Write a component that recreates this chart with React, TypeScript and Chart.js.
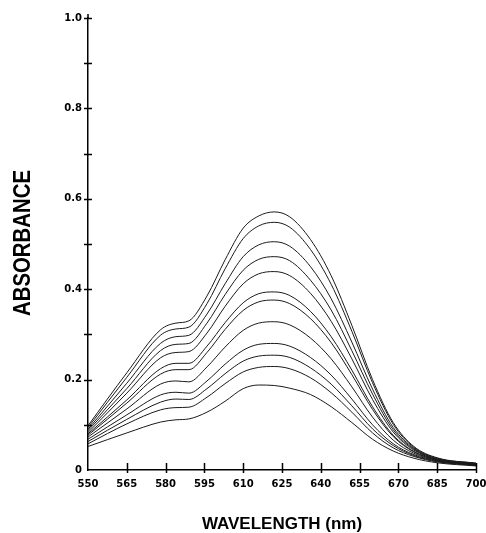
import React, { useEffect, useRef } from "react";
import { Chart, registerables } from "chart.js";

Chart.register(...registerables);

const wavelengths = [550, 565, 578, 584, 589, 596, 603, 610, 616, 622, 628, 636, 644, 652, 660, 668, 676, 685, 700];

const curve1 = [0.098, 0.215, 0.310, 0.325, 0.330, 0.385, 0.465, 0.535, 0.562, 0.571, 0.560, 0.510, 0.430, 0.320, 0.200, 0.105, 0.052, 0.027, 0.015];
const curve2 = [0.094, 0.205, 0.298, 0.312, 0.316, 0.368, 0.445, 0.512, 0.540, 0.548, 0.537, 0.488, 0.411, 0.307, 0.193, 0.101, 0.050, 0.026, 0.015];
const curve3 = [0.090, 0.192, 0.280, 0.295, 0.298, 0.345, 0.412, 0.472, 0.498, 0.505, 0.495, 0.450, 0.379, 0.283, 0.179, 0.094, 0.048, 0.025, 0.014];
const curve4 = [0.087, 0.180, 0.264, 0.278, 0.280, 0.325, 0.388, 0.442, 0.466, 0.472, 0.463, 0.420, 0.354, 0.264, 0.168, 0.089, 0.046, 0.024, 0.014];
const curve5 = [0.083, 0.170, 0.248, 0.260, 0.262, 0.303, 0.362, 0.412, 0.434, 0.439, 0.430, 0.391, 0.329, 0.246, 0.156, 0.084, 0.044, 0.023, 0.013];
const curve6 = [0.080, 0.155, 0.224, 0.236, 0.236, 0.274, 0.326, 0.370, 0.390, 0.394, 0.386, 0.351, 0.295, 0.221, 0.140, 0.077, 0.041, 0.022, 0.013];
const curve7 = [0.077, 0.148, 0.212, 0.222, 0.222, 0.260, 0.311, 0.353, 0.372, 0.376, 0.368, 0.335, 0.282, 0.211, 0.134, 0.074, 0.040, 0.022, 0.012];
const curve8 = [0.073, 0.135, 0.190, 0.197, 0.195, 0.228, 0.272, 0.309, 0.325, 0.328, 0.321, 0.292, 0.246, 0.184, 0.117, 0.066, 0.037, 0.021, 0.012];
const curve9 = [0.068, 0.122, 0.166, 0.172, 0.170, 0.197, 0.234, 0.265, 0.278, 0.280, 0.274, 0.249, 0.210, 0.157, 0.100, 0.058, 0.034, 0.020, 0.011];
const curve10 = [0.063, 0.112, 0.150, 0.157, 0.156, 0.180, 0.213, 0.241, 0.252, 0.254, 0.249, 0.226, 0.190, 0.142, 0.091, 0.054, 0.032, 0.019, 0.010];
const curve11 = [0.058, 0.102, 0.133, 0.138, 0.139, 0.161, 0.191, 0.217, 0.227, 0.229, 0.224, 0.204, 0.171, 0.128, 0.082, 0.049, 0.030, 0.018, 0.010];
const curve12 = [0.052, 0.082, 0.106, 0.111, 0.113, 0.128, 0.152, 0.180, 0.188, 0.187, 0.181, 0.167, 0.140, 0.105, 0.068, 0.042, 0.026, 0.016, 0.009];

const curves = [curve1, curve2, curve3, curve4, curve5, curve6, curve7, curve8, curve9, curve10, curve11, curve12];

const xTickValues = [550, 565, 580, 595, 610, 625, 640, 655, 670, 685, 700];
const xTickLabels = ["550", "565", "580", "595", "610", "625", "640", "655", "670", "685", "700"];
const yTickValues = [0, 0.1, 0.2, 0.3, 0.4, 0.5, 0.6, 0.7, 0.8, 0.9, 1.0];
const yTickLabels = ["0", "", "0.2", "", "0.4", "", "0.6", "", "0.8", "", "1.0"];
const yTitle = "ABSORBANCE";

const crossTicks = {
  id: "crossTicks",
  afterDraw(chart: any) {
    const { ctx, scales } = chart;
    const xs = scales.x;
    const ys = scales.y;
    ctx.save();
    ctx.strokeStyle = "#000";
    ctx.lineWidth = 1.5;
    ctx.beginPath();
    xTickValues.forEach((v) => {
      if (v === 550) return;
      const px = Math.round(xs.getPixelForValue(v)) + 0.5;
      ctx.moveTo(px, xs.top - 7);
      ctx.lineTo(px, xs.top + 3);
    });
    yTickValues.forEach((v) => {
      if (v === 0) return;
      const py = Math.round(ys.getPixelForValue(v)) + 0.5;
      ctx.moveTo(ys.right - 4, py);
      ctx.lineTo(ys.right + 4, py);
    });
    const top = ys.getPixelForValue(1.0);
    ctx.moveTo(ys.right, top);
    ctx.lineTo(ys.right, top - 4);
    ctx.stroke();

    // condensed vertical axis title
    const cy = (ys.top + ys.bottom) / 2 - 1;
    ctx.translate(23, cy);
    ctx.rotate(-Math.PI / 2);
    ctx.font = "bold 24px 'Liberation Sans', Arial, sans-serif";
    const w = ctx.measureText(yTitle).width;
    ctx.scale(146 / w, 1);
    ctx.fillStyle = "#000";
    ctx.textAlign = "center";
    ctx.textBaseline = "middle";
    ctx.fillText(yTitle, 0, 0);
    ctx.restore();
  },
};

export default function App() {
  const canvasRef = useRef<HTMLCanvasElement | null>(null);

  useEffect(() => {
    const canvas = canvasRef.current;
    if (!canvas) return;
    const tickFont = { family: "'DejaVu Sans', sans-serif", size: 10, weight: "bold" as const };
    const chart = new Chart(canvas, {
      type: "line",
      data: {
        datasets: curves.map((c, i) => ({
          label: "curve " + (i + 1),
          data: wavelengths.map((x, j) => ({ x, y: c[j] })),
          borderColor: "#1a1a1a",
          borderWidth: 1,
          pointRadius: 0,
          fill: false,
          cubicInterpolationMode: "monotone" as const,
        })),
      },
      options: {
        responsive: false,
        animation: false,
        events: [],
        layout: { padding: { top: 18, right: 10, left: 0, bottom: 0 } },
        plugins: {
          legend: { display: false },
          tooltip: { enabled: false },
        },
        scales: {
          x: {
            type: "linear",
            min: 550,
            max: 700,
            afterBuildTicks: (scale: any) => {
              scale.ticks = xTickValues.map((v) => ({ value: v }));
            },
            afterFit: (scale: any) => {
              scale.height = 63;
              scale.paddingRight = 0;
              scale.paddingLeft = 0;
            },
            grid: { display: false, drawTicks: false },
            border: { display: true, color: "#000", width: 1.5 },
            ticks: {
              color: "#000",
              font: tickFont,
              padding: 8,
              maxRotation: 0,
              autoSkip: false,
              callback: (value: any) => {
                const i = xTickValues.indexOf(Number(value));
                return i >= 0 ? xTickLabels[i] : "";
              },
            },
            title: {
              display: true,
              text: "WAVELENGTH (nm)",
              color: "#000",
              font: { family: "'Liberation Sans', Arial, sans-serif", size: 17, weight: "bold", lineHeight: 1 },
              padding: { top: 0, bottom: 0 },
            },
          },
          y: {
            type: "linear",
            min: 0,
            max: 1.0,
            afterBuildTicks: (scale: any) => {
              scale.ticks = yTickValues.map((v) => ({ value: v }));
            },
            afterFit: (scale: any) => {
              scale.width = 88;
            },
            grid: { display: false, drawTicks: false },
            border: { display: true, color: "#000", width: 1.5 },
            ticks: {
              color: "#000",
              font: tickFont,
              padding: 6,
              autoSkip: false,
              callback: (value: any) => {
                const i = yTickValues.findIndex((v) => Math.abs(v - Number(value)) < 1e-6);
                return i >= 0 ? yTickLabels[i] : "";
              },
            },
            title: { display: false },
          },
        },
      },
      plugins: [crossTicks],
    });
    return () => chart.destroy();
  }, []);

  return (
    <div style={{ position: "absolute", left: 0, top: 0, width: 486, height: 533, background: "#fff" }}>
      <canvas ref={canvasRef} width={486} height={533} style={{ display: "block" }} />
    </div>
  );
}
